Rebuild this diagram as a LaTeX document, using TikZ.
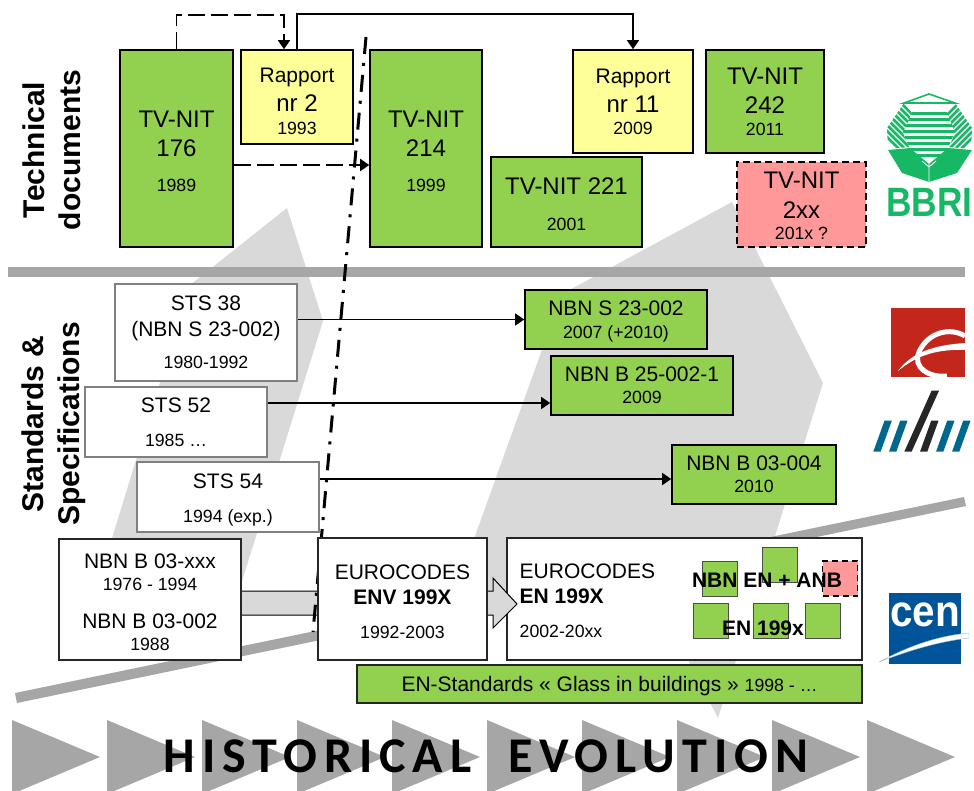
\documentclass[tikz,border=0pt]{standalone}
\usepackage{fontspec}
\setmainfont{Liberation Sans}
\newfontfamily\bannerfont[LetterSpace=14]{Carlito}
\usetikzlibrary{arrows.meta,calc}
\definecolor{nitgreen}{HTML}{92D050}
\definecolor{repyellow}{HTML}{FFFF99}
\definecolor{planpink}{HTML}{FF9999}
\definecolor{bargray}{HTML}{A6A6A6}
\definecolor{shapegray}{HTML}{D9D9D9}
\definecolor{bbrigreen}{HTML}{17B865}
\definecolor{stared}{HTML}{C3261A}
\definecolor{nbnblue}{HTML}{00688F}
\definecolor{nbnblack}{HTML}{262626}
\definecolor{cenblue}{HTML}{00549A}
\newcommand{\bigt}{\fontsize{24}{22}\selectfont}
\newcommand{\midt}{\fontsize{21}{22}\selectfont}
\newcommand{\smlt}{\fontsize{17.7}{22}\selectfont}
\newcommand{\topgap}[1]{\rule{0pt}{#1pt}}
\begin{document}
\begin{tikzpicture}[x=1pt,y=-1pt,
  every node/.style={inner sep=0pt,align=center,font=\smlt},
  nitbox/.style={draw=black,line width=1.6pt,fill=nitgreen},
  repbox/.style={draw=black,line width=1.6pt,fill=repyellow},
  planbox/.style={draw=black,line width=1.9pt,fill=planpink,dash pattern=on 7pt off 4pt},
  stsbox/.style={draw=black!50,line width=1.7pt,fill=white},
  codebox/.style={draw=black!85,line width=1.1pt,fill=white},
  tinybox/.style={draw=black!70,line width=.8pt,fill=nitgreen,minimum width=35,minimum height=35},
  solidarr/.style={line width=1.5pt,-{Triangle[length=9pt,width=12pt]}},
  dasharr/.style={line width=1.8pt,dash pattern=on 17pt off 6pt,-{Triangle[length=9pt,width=12pt]}},
  sidelab/.style={rotate=90,font=\fontsize{30}{36}\selectfont\bfseries}]
\clip (0,0) rectangle (974,790);
% timeline
\foreach \x in {12,107,202,297,392,487,582,677,772,867}
  \fill[bargray] (\x,720) -- (\x+88,757) -- (\x,794) -- cycle;
% big background shapes
\fill[shapegray] (287,208) -- (323,321) -- (219,655) -- (76,655) -- (190,285) -- cycle;
\fill[shapegray] (732,202) -- (823,383) -- (718,718) -- (655,595) -- (470,590) -- (470,550) -- (562,294) -- cycle;
% bars
\fill[bargray] (8,267) rectangle (965,277);
\fill[bargray] (15,693) -- (964,497) -- (966,506) -- (17,703) -- cycle;
% block arrow
\node[codebox,minimum width=355,minimum height=122] (enbox) at (684.5,599) {};
\draw[line width=1pt,fill=shapegray] (235,591) -- (493,591) -- (493,578) -- (517,604) -- (493,628) -- (493,615) -- (235,615) -- cycle;
% transition line
\coordinate (splittop) at (366,37);
\coordinate (splitbot) at (313,632);
\draw[line width=3pt,dash pattern=on 17pt off 9pt on 3pt off 9pt] (splittop) -- (splitbot);
% technical documents
\node[sidelab] (tech) at (52,150) {Technical\\documents};
\node[nitbox,minimum width=113,minimum height=197] (tv176) at (176.5,148.5) {\bigt\topgap{21.5}TV-NIT\\[7pt]\bigt 176\\[13pt]\smlt 1989};
\node[repbox,minimum width=112,minimum height=94] (rap2) at (297,97) {\midt\topgap{23.5}Rapport\\[7pt]\bigt nr 2\\[1pt]\smlt 1993};
\node[nitbox,minimum width=112,minimum height=197] (tv214) at (426,148.5) {\bigt\topgap{21.5}TV-NIT\\[7pt]\bigt 214\\[13pt]\smlt 1999};
\node[nitbox,minimum width=151,minimum height=90] (tv221) at (566.5,202) {\bigt\topgap{21.5}TV-NIT 221\\[14pt]\smlt 2001};
\node[repbox,minimum width=120,minimum height=103] (rap11) at (633,101.5) {\midt Rapport\\[7pt]\bigt nr 11\\\smlt 2009};
\node[nitbox,minimum width=118,minimum height=103] (tv242) at (765,101.5) {\bigt TV-NIT\\[7pt]\bigt 242\\\smlt 2011};
\node[planbox,minimum width=129,minimum height=85] (tv2xx) at (801.5,204.5) {\bigt\topgap{19.5}TV-NIT\\[8pt]\bigt 2xx\\[-1pt]\smlt 201x ?};
% standards and specifications
\node[sidelab] (stand) at (54,424) {Standards \&\\Specifications};
\node[stsbox,minimum width=182,minimum height=97] (sts38) at (206,332.5) {\midt STS 38\\[4pt]\midt (NBN S 23-002)\\[10pt]\smlt 1980-1992};
\node[stsbox,minimum width=182,minimum height=70] (sts52) at (176,422) {\midt STS 52\\[12pt]\smlt 1985 \dots};
\node[stsbox,minimum width=182,minimum height=70] (sts54) at (228,497) {\midt\topgap{21.3}STS 54\\[12pt]\smlt 1994 (exp.)};
\node[nitbox,minimum width=182,minimum height=59] (nbns) at (616,319.5) {\midt\topgap{19.3}NBN S 23-002\\[1pt]\smlt 2007 (+2010)};
\node[nitbox,minimum width=182,minimum height=59] (nbnb25) at (642,385.5) {\midt NBN B 25-002-1\\\smlt 2009};
\node[nitbox,minimum width=164,minimum height=59] (nbnb03) at (754,474.5) {\midt NBN B 03-004\\\smlt 2010};
% codes
\node[codebox,minimum width=182,minimum height=121] (nbnold) at (150,599.5) {\midt\topgap{19.3}NBN B 03-xxx\\\smlt 1976 - 1994\\[16pt]\midt NBN B 03-002\\\smlt 1988};
\node[codebox,minimum width=169,minimum height=122] (env) at (402.5,599) {\midt\topgap{19.3}EUROCODES\\[3pt]\midt\bfseries ENV 199X\\[12pt]\smlt 1992-2003};
\node[anchor=west,align=left] (entxt) at (519.5,601) {\midt EUROCODES\\[3pt]\midt\bfseries EN 199X\\[12pt]\smlt 2002-20xx};
\node[tinybox] (sqa) at (719.5,578.5) {};
\node[tinybox] (sqb) at (779.5,565) {};
\node[tinybox,draw=black,fill=planpink,line width=1.6pt,dash pattern=on 6pt off 4pt] (sqc) at (840,578.5) {};
\node[tinybox] (sqd) at (710.5,621) {};
\node[tinybox] (sqe) at (771,621) {};
\node[tinybox] (sqf) at (822.5,621) {};
\node[font=\midt\bfseries] (nbnen) at (767,580) {NBN EN + ANB};
\node[font=\midt\bfseries] (en199) at (763,628) {EN 199x};
\node[codebox,draw=black!85,line width=1.3pt,fill=nitgreen,minimum width=505,minimum height=38] (glass) at (609.5,684) {\midt\topgap{19.3}EN-Standards « Glass in buildings » \smlt 1998 - \dots};
% connectors
\coordinate (lefttop) at (284,15);
\coordinate (rowa) at (0,165);
\coordinate (rowb) at (0,403);
\coordinate (rowc) at (0,479);
\draw[dasharr] (tv176.north) |- (lefttop) -- (lefttop |- rap2.north);
\draw[solidarr] (rap2.north) -- ++(0,-35) -| (rap11.north);
\draw[dasharr] (tv176.east |- rowa) -- (tv214.west |- rowa);
\draw[solidarr] (sts38.east |- nbns.west) -- (nbns.west);
\draw[solidarr] (sts52.east |- rowb) -- (nbnb25.west |- rowb);
\draw[solidarr] (sts54.east |- rowc) -- (nbnb03.west |- rowc);
% BBRI
\draw[bbrigreen,line width=1.6pt] (904,103) -- (929,94) -- (955,103) -- cycle;
\fill[bbrigreen] (888,150) -- (910,148) -- (929,164) -- (948,148) -- (972,150) -- (957,173) -- (929,182) -- (902,173) -- cycle;
\draw[white,line width=.8pt] (929,164) -- (929,182) (922,161) -- (929,167) -- (936,161);
\begin{scope}
\clip (912,112) -- (947,112) -- (955,132) -- (947,150) -- (936,161) -- (922,161) -- (910,150) -- (903,132) -- cycle;
\foreach \y in {113,119,...,160}
  \draw[bbrigreen,line width=3pt] (900,\y) -- (960,\y);
\end{scope}
\begin{scope}
\clip (904,103) -- (912,113) -- (903,133) -- (909,147) -- (888,149) -- (887,128) -- cycle;
\foreach \x in {850,856,...,910}
  \draw[bbrigreen,line width=2.8pt] (\x,100) -- (\x+55,155);
\end{scope}
\begin{scope}
\clip (955,103) -- (947,113) -- (955,133) -- (949,147) -- (971,149) -- (972,128) -- cycle;
\foreach \x in {950,956,...,1010}
  \draw[bbrigreen,line width=2.8pt] (\x,100) -- (\x-55,155);
\end{scope}
\node[font=\fontsize{41}{41}\selectfont\bfseries,text=bbrigreen,xscale=.86,transform shape] (bbri) at (929.5,202) {BBRI};
% red logo
\fill[stared] (891,308) rectangle (965,377);
\draw[white,line width=5pt] (965,336) .. controls (950,327) and (928,332) .. (919,352) .. controls (912,368) and (930,378) .. (947,376);
\fill[white] (898,371) .. controls (912,352) and (935,345) .. (965,343) -- (965,350) .. controls (940,349) and (918,354) .. (898,371) -- cycle;
% NBN logo
\foreach \xb/\col in {873.3/nbnblue,889/nbnblue,920/nbnblack,936/nbnblue,952/nbnblue}
  \fill[\col] (\xb,451.7) -- (\xb+7.3,451.7) -- (\xb+18.5,420.7) -- (\xb+11.2,420.7) -- cycle;
\fill[nbnblack] (904.3,451.7) -- (911.6,451.7) -- (939,390.7) -- (931.6,390.7) -- cycle;
% CEN logo
\fill[cenblue] (889,593) rectangle (961,664);
\node[font=\fontsize{44}{44}\selectfont\bfseries,text=white,xscale=.92,transform shape] (cen) at (925,615) {cen};
\fill[white,draw=cenblue!40,line width=.4pt] (879,662) .. controls (905,648) and (935,636) .. (969,633) -- (969,638) .. controls (935,642) and (905,652) .. (879,662) -- cycle;
% banner
\node[font=\fontsize{50}{50}\selectfont\bfseries\bannerfont] (hist) at (486,756) {HISTORICAL\ \ EVOLUTION};
\end{tikzpicture}
\end{document}
